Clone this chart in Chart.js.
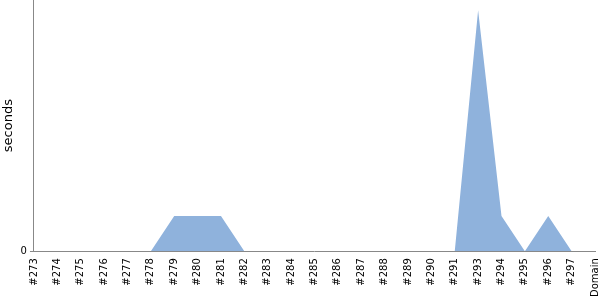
<!DOCTYPE html>
<html>
<head>
<meta charset="utf-8">
<script src="https://cdn.jsdelivr.net/npm/chart.js@4/dist/chart.umd.min.js"></script>
<style>
  html, body { margin: 0; padding: 0; background: #fff; }
  #wrap { width: 600px; height: 300px; }
</style>
</head>
<body>
<div id="wrap"><canvas id="chart"></canvas></div>
<script>
const builds = ['#273', '#274', '#275', '#276', '#277', '#278', '#279', '#280', '#281', '#282',
  '#283', '#284', '#285', '#286', '#287', '#288', '#289', '#290', '#291', '#293',
  '#294', '#295', '#296', '#297', 'Domain'];
const seconds = [0, 0, 0, 0, 0, 0, 1, 1, 1, 0,
  0, 0, 0, 0, 0, 0, 0, 0, 0, 6.86,
  1, 0, 1, 0, 0];
const yMax = 7.15;

Chart.defaults.font.family = 'DejaVu Sans';
Chart.defaults.font.size = 10;
Chart.defaults.color = '#000';

new Chart(document.getElementById('chart'), {
  type: 'line',
  data: {
    labels: builds,
    datasets: [{
      data: seconds,
      fill: 'origin',
      backgroundColor: '#8fb2dc',
      borderWidth: 0,
      pointRadius: 0,
      tension: 0,
    }],
  },
  options: {
    animation: false,
    responsive: true,
    maintainAspectRatio: false,
    layout: { padding: 0 },
    plugins: {
      legend: { display: false },
      tooltip: { enabled: false },
    },
    scales: {
      x: {
        grid: { display: false, drawTicks: true, tickLength: 4 },
        border: { color: '#888' },
        ticks: { minRotation: 90, maxRotation: 90, autoSkip: false, padding: 3 },
        afterFit: (scale) => {
          scale.paddingLeft = 0;
          scale.paddingRight = 5;
        },
      },
      y: {
        min: 0,
        max: yMax,
        grid: { display: true, drawOnChartArea: false, drawTicks: true, tickLength: 4, color: '#888' },
        border: { color: '#888' },
        title: { display: true, text: 'seconds', font: { size: 13 }, padding: 1 },
        ticks: { padding: 3 },
        afterBuildTicks: (scale) => {
          scale.ticks = [{ value: 0 }];
        },
        afterFit: (scale) => {
          scale.paddingTop = 0;
          scale.paddingBottom = 0;
        },
      },
    },
  },
});
</script>
</body>
</html>
